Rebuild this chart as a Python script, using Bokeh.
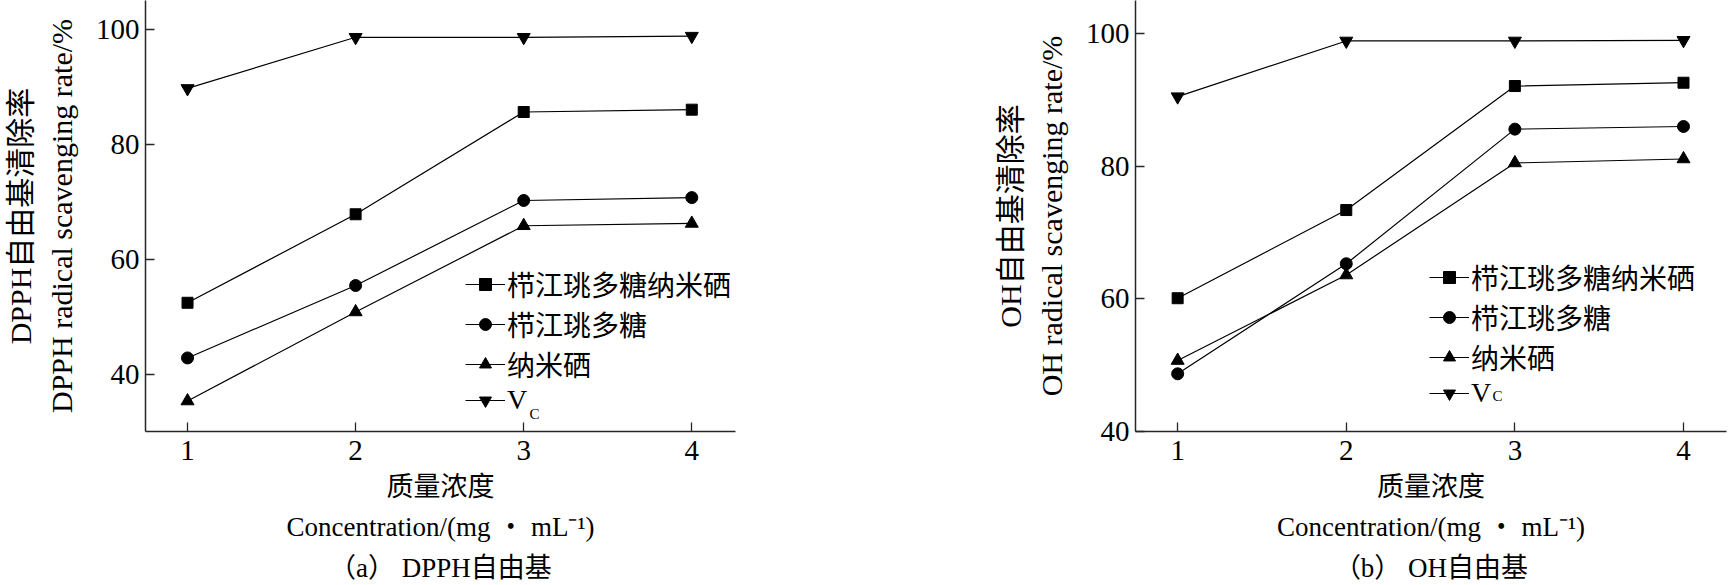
from bokeh.plotting import figure
from bokeh.layouts import row
from bokeh.models import Label, Legend, LegendItem, FixedTicker, Range1d
from bokeh.embed import file_html
from bokeh.resources import INLINE

# ---------------- data ----------------
conc = [1, 2, 3, 4]
x_ticks = [1, 2, 3, 4]
series_names = ["栉江珧多糖纳米硒", "栉江珧多糖", "纳米硒", "V"]
markers = ["square", "circle", "triangle", "inverted_triangle"]

dpph_se_poly = [52.4, 67.8, 85.6, 86.0]
dpph_poly = [42.8, 55.4, 70.2, 70.7]
dpph_se = [35.3, 50.8, 65.8, 66.2]
dpph_vc = [89.7, 98.6, 98.6, 98.8]

oh_se_poly = [60.1, 73.4, 92.1, 92.6]
oh_poly = [48.7, 65.3, 85.6, 86.0]
oh_se = [50.7, 63.6, 80.5, 81.1]
oh_vc = [90.5, 98.9, 98.9, 99.0]

dpph_ticks = [40, 60, 80, 100]
oh_ticks = [40, 60, 80, 100]

x_title = "质量浓度\nConcentration/(mg ・ mL⁻¹)"

MIX = "Liberation Serif, Noto Sans CJK SC"
SERIF = "Liberation Serif"


def make_chart(series, yr, yticks, width, bl, br, ylab, caption,
               legend_xy, sub_xy, xend):
    p = figure(width=width, height=585, output_backend="svg", toolbar_location=None,
               x_range=Range1d(0.75, xend), y_range=Range1d(*yr),
               min_border_left=bl, min_border_right=br, min_border_top=0,
               min_border_bottom=152)
    p.outline_line_color = None
    p.xgrid.visible = False
    p.ygrid.visible = False
    p.background_fill_color = "white"
    p.border_fill_color = "white"

    for ax in (p.xaxis[0], p.yaxis[0]):
        ax.axis_line_color = "#262626"
        ax.axis_line_width = 1.5
        ax.major_tick_line_color = "#262626"
        ax.major_tick_line_width = 1.3
        ax.major_tick_in = 9
        ax.major_tick_out = 0
        ax.minor_tick_line_color = None
        ax.major_label_text_font = SERIF
        ax.major_label_text_font_size = "29px"
        ax.major_label_text_color = "black"
        ax.axis_label_text_font = MIX
        ax.axis_label_text_font_style = "normal"
        ax.axis_label_text_color = "black"
    p.xaxis.ticker = FixedTicker(ticks=x_ticks)
    p.yaxis.ticker = FixedTicker(ticks=yticks)
    p.xaxis.major_label_standoff = 9
    p.yaxis.major_label_standoff = 6

    p.yaxis.axis_label = ylab
    p.yaxis.axis_label_text_font_size = "30px"
    p.yaxis.axis_label_text_line_height = 1.25
    p.yaxis.axis_label_standoff = 15

    p.xaxis.axis_label = x_title + "\n" + caption
    p.xaxis.axis_label_text_font_size = "27px"
    p.xaxis.axis_label_text_line_height = 1.35
    p.xaxis.axis_label_standoff = 9

    items = []
    for name, vals, mk in zip(series_names, series, markers):
        lr = p.line(conc, vals, line_color="black", line_width=1.2)
        size = {"square": 11, "circle": 12, "triangle": 13, "inverted_triangle": 13}[mk]
        sr = p.scatter(conc, vals, marker=mk, size=size, fill_color="black",
                       line_color="black")
        items.append(LegendItem(label=name, renderers=[lr, sr]))

    leg = Legend(items=items, location=legend_xy, padding=0, margin=0,
                 border_line_alpha=0, background_fill_alpha=0,
                 glyph_width=40, glyph_height=30, label_height=30,
                 label_standoff=2, spacing=0,
                 label_text_font=MIX, label_text_font_size="28px",
                 label_text_color="black")
    p.add_layout(leg)

    p.add_layout(Label(text="C", x=sub_xy[0], y=sub_xy[1], x_units="screen",
                       y_units="screen", text_align="center", text_baseline="middle",
                       text_font=SERIF, text_font_size="15px", text_color="black"))
    return p


p1 = make_chart([dpph_se_poly, dpph_poly, dpph_se, dpph_vc], (30, 105), dpph_ticks,
                990, 143, 255, "DPPH自由基清除率\nDPPH radical scavenging rate/%",
                "（a） DPPH自由基", (320, 15), (389, 18), 4.26)
p2 = make_chart([oh_se_poly, oh_poly, oh_se, oh_vc], (40, 105), oh_ticks,
                744, 145, 8, "OH自由基清除率\nOH radical scavenging rate/%",
                "（b） OH自由基", (294, 22), (362, 36), 4.255)

layout = row(p1, p2)
open("out.html", "w").write(file_html(layout, INLINE))
